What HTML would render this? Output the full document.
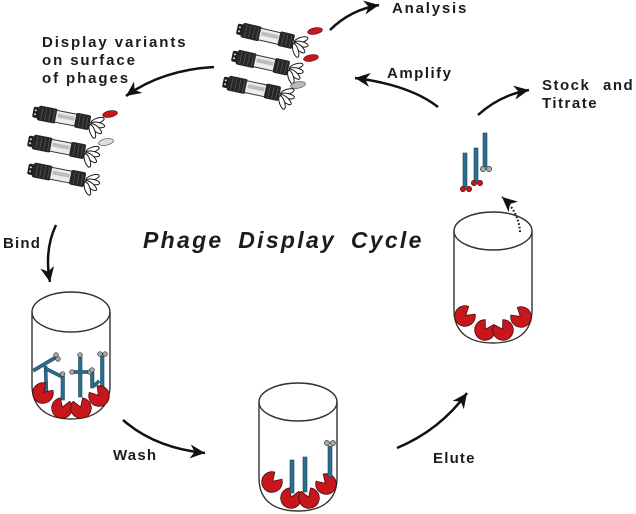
<!DOCTYPE html>
<html><head><meta charset="utf-8"><style>
html,body{margin:0;padding:0;background:#fff;}
svg{display:block;}
text{font-family:"Liberation Sans",Arial,sans-serif;font-weight:bold;fill:#1c1c1c;}
</style></head><body>
<svg width="636" height="514" viewBox="0 0 636 514" xmlns="http://www.w3.org/2000/svg">
<defs>
  <marker id="ah" markerUnits="userSpaceOnUse" markerWidth="18" markerHeight="14" refX="15" refY="7" orient="auto">
    <path d="M0,0 L15,7 L0,14 L4.5,7 Z" fill="#111"/>
  </marker>
  <g id="phage">
    <rect x="-1" y="-5.5" width="7" height="11" rx="2" fill="#1e1e1e"/>
    <circle cx="1.5" cy="-2" r="1" fill="#ddd"/>
    <circle cx="1.5" cy="2" r="1" fill="#ddd"/>
    <rect x="4" y="-7.5" width="19" height="15" rx="2" fill="#262626"/>
    <path d="M8,-6 v12 M12,-6 v12 M16,-6 v12 M20,-6 v12" stroke="#555" stroke-width="0.8"/>
    <rect x="22" y="-6" width="21" height="12" fill="#ededed" stroke="#333" stroke-width="1"/>
    <rect x="24" y="-3" width="17" height="4" fill="#bdbdbd"/>
    <rect x="42" y="-7.5" width="15" height="15" rx="2" fill="#262626"/>
    <path d="M46,-6 v12 M50,-6 v12 M54,-6 v12" stroke="#555" stroke-width="0.8"/>
    <g fill="#fff" stroke="#1a1a1a" stroke-width="1">
      <ellipse cx="64" cy="-3.5" rx="7" ry="2.6" transform="rotate(-30 64 -3.5)"/>
      <ellipse cx="65" cy="0.5" rx="7" ry="2.6" transform="rotate(0 65 0.5)"/>
      <ellipse cx="64" cy="4.5" rx="7" ry="2.6" transform="rotate(30 64 4.5)"/>
      <ellipse cx="61" cy="8" rx="7" ry="2.6" transform="rotate(60 61 8)"/>
    </g>
  </g>
  <path id="pac" d="M0,-1 L-5,-9 A10.3,10.3 0 1 0 5,-9 Z" fill="#c8161d" stroke="#4a0a0a" stroke-width="0.8"/>
</defs>

<!-- Top phage group -->
<use href="#phage" transform="translate(238,29) rotate(13)"/>
<ellipse cx="315" cy="31" rx="7.5" ry="3.2" fill="#c8161d" stroke="#5a0a0a" stroke-width="0.6" transform="rotate(-10 315 31)"/>
<use href="#phage" transform="translate(233,56) rotate(12.5)"/>
<ellipse cx="311" cy="58" rx="7.5" ry="3.2" fill="#c8161d" stroke="#5a0a0a" stroke-width="0.6" transform="rotate(-10 311 58)"/>
<use href="#phage" transform="translate(224,82) rotate(12)"/>
<ellipse cx="298" cy="85" rx="7.5" ry="3.2" fill="#bbb" stroke="#444" stroke-width="0.6" transform="rotate(-10 298 85)"/>

<!-- Left phage group -->
<use href="#phage" transform="translate(34,112) rotate(11)"/>
<ellipse cx="110" cy="114" rx="7.5" ry="3.2" fill="#c8161d" stroke="#5a0a0a" stroke-width="0.6" transform="rotate(-10 110 114)"/>
<use href="#phage" transform="translate(29,141) rotate(11)"/>
<ellipse cx="106" cy="142" rx="7.5" ry="3.2" fill="#ddd" stroke="#444" stroke-width="0.6" transform="rotate(-10 106 142)"/>
<use href="#phage" transform="translate(29,169) rotate(11)"/>

<!-- Arrows -->
<g fill="none" stroke="#111" stroke-width="2.5">
  <path d="M330,30 Q350,10 379,5" marker-end="url(#ah)"/>
  <path d="M214,67 Q162,70 126,96" marker-end="url(#ah)"/>
  <path d="M438,107 Q410,85 355,78" marker-end="url(#ah)"/>
  <path d="M478,115 Q500,95 529,90" marker-end="url(#ah)"/>
  <path d="M56,225 Q44,250 50,282" marker-end="url(#ah)"/>
  <path d="M123,420 Q155,448 205,453" marker-end="url(#ah)"/>
  <path d="M397,448 Q440,430 467,393" marker-end="url(#ah)"/>
  <path d="M520,232 Q519,212 502,197" stroke-dasharray="1.6 2" stroke-width="2" marker-end="url(#ah)"/>
</g>

<!-- Bind tube -->
<g fill="none" stroke="#333" stroke-width="1.4">
  <ellipse cx="71" cy="312" rx="39" ry="20"/>
  <path d="M32,312 L32,385 C32,410 50,419 71,419 C92,419 110,410 110,385 L110,312"/>
</g>
<g stroke="#1d4a60" stroke-width="0.6" fill="#2d6d8c">
  <path d="M33,369 L55,356 L56,359 L34,372 Z"/>
  <path d="M44,366 L47,366 L48,395 L45,395 Z"/>
  <path d="M46,367 L64,376 L63,379 L45,370 Z"/>
  <rect x="61" y="376" width="3.5" height="24"/>
  <rect x="78.5" y="357" width="3.5" height="40"/>
  <rect x="73" y="370.5" width="17" height="3"/>
  <rect x="90.5" y="372" width="3.5" height="16"/>
  <rect x="100.5" y="356" width="3.5" height="34"/>
  <path d="M93,385 L98,380 L100,382 L95,387 Z"/>
</g>
<g fill="#aaa" stroke="#333" stroke-width="0.7">
  <circle cx="56" cy="355" r="2.3"/><circle cx="58" cy="359" r="2.3"/>
  <circle cx="62.5" cy="374" r="2.3"/>
  <circle cx="80" cy="355" r="2.3"/>
  <circle cx="72" cy="372" r="2.3"/><circle cx="90" cy="372" r="2.3"/>
  <circle cx="92" cy="370" r="2.3"/>
  <circle cx="100" cy="354" r="2.3"/><circle cx="105" cy="354" r="2.3"/>
</g>
<use href="#pac" transform="translate(43,393) rotate(45)"/>
<use href="#pac" transform="translate(62,408) rotate(20)"/>
<use href="#pac" transform="translate(81,408) rotate(-20)"/>
<use href="#pac" transform="translate(99,396) rotate(-40)"/>

<!-- Wash tube -->
<g fill="none" stroke="#333" stroke-width="1.4">
  <ellipse cx="298" cy="402" rx="39" ry="19"/>
  <path d="M259,402 L259,478 C259,502 276,511 298,511 C320,511 337,502 337,478 L337,402"/>
</g>
<use href="#pac" transform="translate(272,482) rotate(45)"/>
<use href="#pac" transform="translate(291,498) rotate(20)"/>
<use href="#pac" transform="translate(309,498) rotate(-20)"/>
<use href="#pac" transform="translate(326,484) rotate(-45)"/>
<g stroke="#1d4a60" stroke-width="0.6" fill="#2d6d8c">
  <rect x="290" y="460" width="4" height="33"/>
  <rect x="303" y="457" width="4" height="35"/>
  <rect x="328" y="446" width="4" height="31"/>
</g>
<g fill="#aaa" stroke="#333" stroke-width="0.7">
  <circle cx="327" cy="443" r="2.5"/><circle cx="333" cy="443" r="2.5"/>
</g>

<!-- Elute tube -->
<g fill="none" stroke="#333" stroke-width="1.4">
  <ellipse cx="493" cy="231" rx="39" ry="19"/>
  <path d="M454,231 L454,310 C454,334 471,343 493,343 C515,343 532,334 532,310 L532,231"/>
</g>
<use href="#pac" transform="translate(465,316) rotate(50)"/>
<use href="#pac" transform="translate(485,330) rotate(30)"/>
<use href="#pac" transform="translate(503,330) rotate(-30)"/>
<use href="#pac" transform="translate(521,317) rotate(-50)"/>

<!-- Free phage rods -->
<g stroke="#1d4a60" stroke-width="0.6" fill="#2d6d8c">
  <rect x="463" y="153" width="4" height="34"/>
  <rect x="474" y="148" width="4" height="33"/>
  <rect x="483" y="133" width="4" height="34"/>
</g>
<g fill="#c8161d" stroke="#4a0a0a" stroke-width="0.7">
  <circle cx="463" cy="189" r="2.6"/><circle cx="469" cy="189" r="2.6"/>
  <circle cx="474" cy="183" r="2.6"/><circle cx="480" cy="183" r="2.6"/>
</g>
<g fill="#aaa" stroke="#333" stroke-width="0.7">
  <circle cx="483" cy="169" r="2.6"/><circle cx="489" cy="169" r="2.6"/>
</g>

<!-- Labels -->
<g font-size="15" letter-spacing="1.3">
  <text x="42" y="47" letter-spacing="1.9">Display variants</text>
  <text x="42" y="65" letter-spacing="1.9">on surface</text>
  <text x="42" y="83" letter-spacing="1.9">of phages</text>
  <text x="392" y="13" letter-spacing="1.8">Analysis</text>
  <text x="387" y="78" letter-spacing="1.5">Amplify</text>
  <text x="542" y="90" letter-spacing="1.5" word-spacing="7">Stock and</text>
  <text x="542" y="108" letter-spacing="1.5">Titrate</text>
  <text x="3" y="248" letter-spacing="1.2">Bind</text>
  <text x="113" y="460" letter-spacing="1.2">Wash</text>
  <text x="433" y="463" letter-spacing="1.2">Elute</text>
</g>
<text x="143" y="248" font-size="23" font-style="italic" letter-spacing="2.3" word-spacing="6">Phage Display Cycle</text>
</svg>
</body></html>
